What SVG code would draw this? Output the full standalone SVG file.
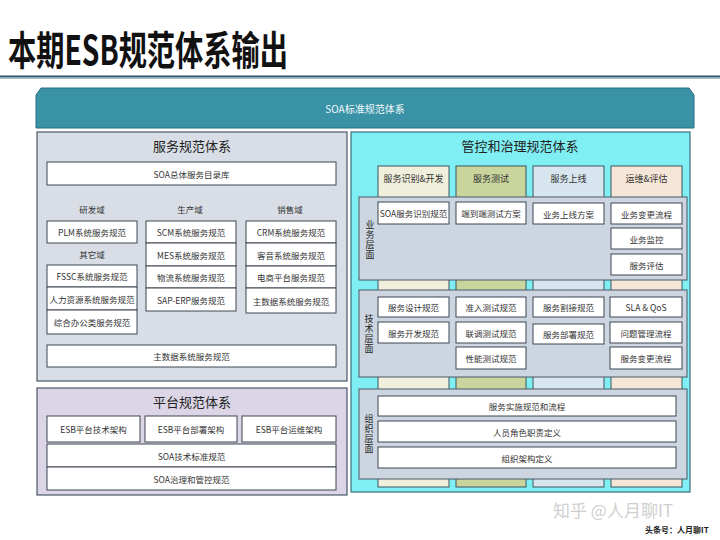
<svg xmlns="http://www.w3.org/2000/svg" width="720" height="540" viewBox="0 0 720 540">
<style>
text{font-family:"Noto Sans CJK SC","Noto Sans",sans-serif;}
.b{fill:#ffffff;stroke:#3d4650;stroke-width:1;}
.t{font-size:8.5px;fill:#333;text-anchor:middle;dominant-baseline:central;}
.lbl{font-size:8.5px;fill:#333;text-anchor:middle;dominant-baseline:central;}
.pt{font-size:13px;fill:#222;text-anchor:middle;dominant-baseline:central;}
.band{fill:#cdd6e0;stroke:#4a5866;stroke-width:1;}
.vt{font-size:9px;fill:#222;text-anchor:middle;writing-mode:vertical-rl;letter-spacing:1px;}
.hd{font-size:9px;fill:#333;text-anchor:middle;dominant-baseline:central;}
.col{stroke:#3d5560;stroke-width:1;}
</style>
<rect width="720" height="540" fill="#ffffff"/>
<text x="8" y="65" font-size="40" font-weight="bold" fill="#111" textLength="280" lengthAdjust="spacingAndGlyphs">本期ESB规范体系输出</text>
<line x1="0" y1="76.5" x2="720" y2="76.5" stroke="#2e5670" stroke-width="2"/>
<line x1="0" y1="78.5" x2="720" y2="78.5" stroke="#a9bccb" stroke-width="1"/>

<g id="banner">
<path d="M41,88 H689 L694,95 V128 H36 V95 Z" fill="#3a92a6" stroke="#2b6e80" stroke-width="1"/>
<text x="365" y="108" font-size="10" fill="#eef8fb" text-anchor="middle" dominant-baseline="central">SOA标准规范体系</text>
</g>

<g id="service-panel">
<rect x="37" y="132" width="310" height="249" fill="#d9dee6" stroke="#4a5866" stroke-width="1.2"/>
<text class="pt" x="192" y="145">服务规范体系</text>
<rect class="b" x="47" y="162" width="289" height="23"/><text class="t" x="191.5" y="173.5">SOA总体服务目录库</text>
<text class="lbl" x="92" y="209">研发域</text>
<text class="lbl" x="190" y="209">生产域</text>
<text class="lbl" x="290" y="209">销售域</text>
<rect class="b" x="47" y="221" width="90" height="22"/><text class="t" x="92" y="232">PLM系统服务规范</text>
<text class="lbl" x="92" y="254">其它域</text>
<rect class="b" x="47" y="265" width="90" height="22"/><text class="t" x="92" y="276">FSSC系统服务规范</text>
<rect class="b" x="47" y="287" width="90" height="23"/><text class="t" x="92" y="298.5">人力资源系统服务规范</text>
<rect class="b" x="47" y="310" width="90" height="24"/><text class="t" x="92" y="322">综合办公类服务规范</text>
<rect class="b" x="146" y="221" width="90" height="22"/><text class="t" x="191" y="232">SCM系统服务规范</text>
<rect class="b" x="146" y="243" width="90" height="23"/><text class="t" x="191" y="254.5">MES系统服务规范</text>
<rect class="b" x="146" y="266" width="90" height="22"/><text class="t" x="191" y="277">物流系统服务规范</text>
<rect class="b" x="146" y="288" width="90" height="23"/><text class="t" x="191" y="299.5">SAP-ERP服务规范</text>
<rect class="b" x="246" y="221" width="90" height="22"/><text class="t" x="291" y="232">CRM系统服务规范</text>
<rect class="b" x="246" y="243" width="90" height="23"/><text class="t" x="291" y="254.5">客音系统服务规范</text>
<rect class="b" x="246" y="266" width="90" height="22"/><text class="t" x="291" y="277">电商平台服务规范</text>
<rect class="b" x="246" y="288" width="90" height="25"/><text class="t" x="291" y="300.5">主数据系统服务规范</text>
<rect class="b" x="47" y="345" width="289" height="22"/><text class="t" x="191.5" y="356">主数据系统服务规范</text>
</g>

<g id="platform-panel">
<rect x="37" y="388" width="310" height="107" fill="#dbd5e5" stroke="#4a5866" stroke-width="1.2"/>
<text class="pt" x="192" y="401">平台规范体系</text>
<rect class="b" x="47" y="416" width="93" height="26"/><text class="t" x="93.5" y="429">ESB平台技术架构</text>
<rect class="b" x="145" y="416" width="92" height="26"/><text class="t" x="191" y="429">ESB平台部署架构</text>
<rect class="b" x="242" y="416" width="94" height="26"/><text class="t" x="289" y="429">ESB平台运维架构</text>
<rect class="b" x="47" y="444" width="289" height="23"/><text class="t" x="191.5" y="455.5">SOA技术标准规范</text>
<rect class="b" x="47" y="467" width="289" height="23"/><text class="t" x="191.5" y="478.5">SOA治理和管控规范</text>
</g>

<g id="governance-panel">
<rect x="351" y="132" width="339" height="360" fill="#80eff3" stroke="#3d6f7a" stroke-width="1.2"/>
<text class="pt" x="520" y="145">管控和治理规范体系</text>
<rect class="col" x="378" y="166" width="71" height="321" fill="#efefdc"/>
<text class="hd" x="413.5" y="178">服务识别&amp;开发</text>
<rect class="col" x="456" y="166" width="70" height="321" fill="#c9d59c"/>
<text class="hd" x="491" y="178">服务测试</text>
<rect class="col" x="533" y="166" width="71" height="321" fill="#d7e6ee"/>
<text class="hd" x="568.5" y="178">服务上线</text>
<rect class="col" x="611" y="166" width="71" height="321" fill="#f6e6d7"/>
<text class="hd" x="646.5" y="178">运维&amp;评估</text>
</g>

<g id="business-layer">
<rect class="band" x="359" y="197" width="328" height="83"/>
<text class="vt" x="370" y="240">业务层面</text>
<rect class="b" x="378" y="202" width="71" height="22"/><text class="t" x="413.5" y="213">SOA服务识别规范</text>
<rect class="b" x="456" y="202" width="70" height="22"/><text class="t" x="491" y="213">端到端测试方案</text>
<rect class="b" x="533" y="203" width="71" height="21"/><text class="t" x="568.5" y="213.5">业务上线方案</text>
<rect class="b" x="611" y="203" width="71" height="21"/><text class="t" x="646.5" y="213.5">业务变更流程</text>
<rect class="b" x="611" y="228" width="71" height="21"/><text class="t" x="646.5" y="238.5">业务监控</text>
<rect class="b" x="611" y="254" width="71" height="21"/><text class="t" x="646.5" y="264.5">服务评估</text>
</g>

<g id="tech-layer">
<rect class="band" x="359" y="290" width="328" height="87"/>
<text class="vt" x="369" y="334">技术层面</text>
<rect class="b" x="378" y="297" width="71" height="20"/><text class="t" x="413.5" y="307">服务设计规范</text>
<rect class="b" x="378" y="322" width="71" height="21"/><text class="t" x="413.5" y="332.5">服务开发规范</text>
<rect class="b" x="456" y="297" width="70" height="20"/><text class="t" x="491" y="307">准入测试规范</text>
<rect class="b" x="456" y="322" width="70" height="21"/><text class="t" x="491" y="332.5">联调测试规范</text>
<rect class="b" x="456" y="347" width="70" height="22"/><text class="t" x="491" y="358">性能测试规范</text>
<rect class="b" x="533" y="297" width="71" height="20"/><text class="t" x="568.5" y="307">服务割接规范</text>
<rect class="b" x="533" y="324" width="71" height="20"/><text class="t" x="568.5" y="334">服务部署规范</text>
<rect class="b" x="610" y="297" width="72" height="20"/><text class="t" x="646" y="307">SLA &amp; QoS</text>
<rect class="b" x="610" y="322" width="72" height="21"/><text class="t" x="646" y="332.5">问题管理流程</text>
<rect class="b" x="610" y="347" width="72" height="22"/><text class="t" x="646" y="358">服务变更流程</text>
</g>

<g id="org-layer">
<rect class="band" x="359" y="389" width="328" height="90"/>
<text class="vt" x="369" y="434">组织层面</text>
<rect class="b" x="378" y="396" width="298" height="20"/><text class="t" x="527" y="406">服务实施规范和流程</text>
<rect class="b" x="378" y="421" width="298" height="21"/><text class="t" x="527" y="431.5">人员角色职责定义</text>
<rect class="b" x="378" y="447" width="298" height="21"/><text class="t" x="527" y="457.5">组织架构定义</text>
</g>

<g id="connectors"></g>

<text x="553" y="517" font-size="17" fill="#cfcfcf" font-family="'Noto Sans CJK SC',sans-serif">知乎 @人月聊IT</text>
<text x="645" y="533" font-size="8" font-weight="bold" fill="#222">头条号：人月聊IT</text>
</svg>
